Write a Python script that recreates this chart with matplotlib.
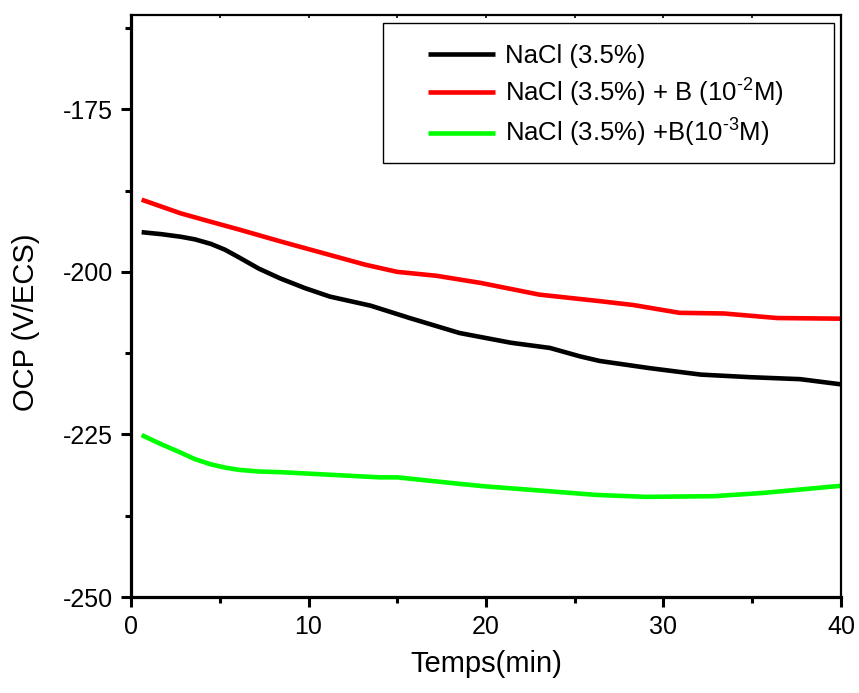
import matplotlib
matplotlib.use("Agg")
import matplotlib.pyplot as plt
from matplotlib.ticker import MultipleLocator
from matplotlib.patches import Rectangle

plt.rcParams['font.family'] = ['Liberation Sans', 'DejaVu Sans']
plt.rcParams['mathtext.fontset'] = 'custom'
plt.rcParams['mathtext.rm'] = 'Liberation Sans'
plt.rcParams['mathtext.it'] = 'Liberation Sans'
plt.rcParams['axes.unicode_minus'] = False

# Data
t_black = [0.6, 1.7, 2.8, 3.6, 4.5, 5.3, 6.1, 7.2, 8.4, 9.8, 11.2, 13.5, 15.7, 18.5, 21.4, 23.6, 25.3, 26.4, 29.2, 32.1, 34.9, 37.7, 40.0]
v_black = [-193.9, -194.2, -194.6, -195.0, -195.7, -196.6, -197.8, -199.5, -201.0, -202.5, -203.8, -205.2, -207.1, -209.4, -210.9, -211.7, -213.0, -213.7, -214.8, -215.8, -216.2, -216.5, -217.3]

t_red = [0.6, 2.8, 4.5, 6.1, 8.4, 11.2, 13.2, 15.0, 17.2, 19.7, 23.0, 26.4, 28.3, 30.9, 33.4, 36.4, 40.0]
v_red = [-188.9, -191.0, -192.3, -193.5, -195.3, -197.4, -198.9, -200.0, -200.6, -201.7, -203.5, -204.5, -205.1, -206.3, -206.4, -207.1, -207.2]

t_green = [0.6, 1.7, 2.8, 3.6, 4.5, 5.3, 6.1, 7.2, 8.4, 11.2, 14.0, 15.0, 17.8, 20.0, 23.4, 26.2, 29.0, 32.8, 35.6, 40.0]
v_green = [-225.1, -226.5, -227.8, -228.8, -229.6, -230.1, -230.45, -230.7, -230.8, -231.2, -231.6, -231.6, -232.4, -233.0, -233.7, -234.3, -234.6, -234.5, -234.0, -232.9]

labels = ["NaCl (3.5%)",
          r"NaCl (3.5%) + B (10$^{\text{-2}}$M)",
          r"NaCl (3.5%) +B(10$^{\text{-3}}$M)"]
colors = ["#000000", "#ff0000", "#00ff00"]

fig = plt.figure(figsize=(8.59, 6.93), dpi=100)
ax = fig.add_axes([131/859, 1-597/693, 710/859, 582/693])

for t, v, c, lab in zip([t_black, t_red, t_green], [v_black, v_red, v_green], colors, labels):
    ax.plot(t, v, color=c, lw=3.3, label=lab, solid_capstyle='butt', solid_joinstyle='round')

ax.set_xlim(0, 40)
ax.set_ylim(-250, -160.5)
ax.xaxis.set_major_locator(MultipleLocator(10))
ax.xaxis.set_minor_locator(MultipleLocator(5))
ax.yaxis.set_major_locator(MultipleLocator(25))
ax.yaxis.set_minor_locator(MultipleLocator(12.5))

for side in ['left', 'bottom']:
    ax.spines[side].set_linewidth(2.3)
for side in ['top', 'right']:
    ax.spines[side].set_linewidth(1.6)

ax.tick_params(axis='both', which='major', direction='out', length=7, width=2.2, labelsize=18, pad=6)
ax.tick_params(axis='both', which='minor', direction='out', length=4, width=2.2)

# small inward ticks on the top edge
top = ax.secondary_xaxis('top')
top.xaxis.set_major_locator(MultipleLocator(5))
top.tick_params(direction='in', length=2.5, width=1.2, labeltop=False)
top.spines['top'].set_visible(False)

ax.set_xlabel("Temps(min)", fontsize=21, labelpad=8)
ax.set_ylabel("OCP (V/ECS)", fontsize=21)
ax.yaxis.set_label_coords((40-131)/710, (597-322)/582)

# legend frame
ax.add_patch(Rectangle(((383-131)/710, (597-163)/582), (834-383)/710, (163-23)/582,
                       transform=ax.transAxes, fill=True, facecolor='white',
                       edgecolor='black', lw=1.0, zorder=4))
leg = ax.legend(loc='upper left', bbox_to_anchor=((428-131)/710, (597-44)/582),
                fontsize=18.5, frameon=False, handlelength=2.6,
                handletextpad=0.4, labelspacing=0.33, borderpad=0, borderaxespad=0)
leg.set_zorder(5)

fig.savefig("out.png", dpi=100)
